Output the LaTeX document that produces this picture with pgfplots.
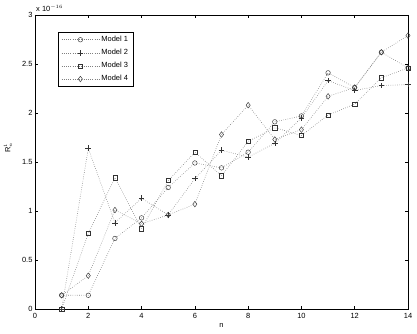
\documentclass[border=0pt]{standalone}
\usepackage{fontspec}
\setmainfont{Liberation Sans}
\usepackage{pgfplots}
\pgfplotsset{compat=1.18}
\usetikzlibrary{calc}
\newcommand{\smallf}{\fontsize{7.5}{9}\selectfont}
\pgfplotsset{
  mdl/.style={dash pattern=on 0.6pt off 1.6pt, color=black!50, line width=0.6pt,
    mark options={solid, draw=black!80, line width=0.45pt, fill=none}},
}
\begin{document}
\begin{tikzpicture}
\begin{axis}[
  scale only axis, width=373bp, height=294bp,
  xmin=0, xmax=14, ymin=0, ymax=3,
  xtick={0,2,...,14}, ytick={0,0.5,...,3},
  tick align=inside, major tick length=3bp,
  tick style={black, line width=0.5pt},
  axis line style={black, line width=0.7pt},
  font=\smallf, ticklabel style={font=\smallf},
  /pgf/number format/assume math mode=true,
  yticklabel style={xshift=1bp},
  xticklabel style={yshift=-1bp},
  clip mode=individual,
  xlabel={n}, xlabel style={at={(0.5,-0.055)}, anchor=center},
  ylabel={$\mathrm{R}^{1}_{n}$}, ylabel style={at={(-0.072,0.55)}, anchor=center, rotate=0},
  legend style={at={(0.062,0.942)}, anchor=north west, draw=black, line width=0.5pt,
    font=\smallf, inner xsep=3bp, inner ysep=2bp, row sep=2.2bp},
  legend cell align=left,
  legend image code/.code={\draw[mark repeat=2,mark phase=2] plot coordinates {(0cm,0cm)(0.66cm,0cm)(1.32cm,0cm)};},
]
\addplot[mdl, mark=o, mark size=2.3pt] coordinates {
  (1,0.14)(2,0.14)(3,0.72)(4,0.93)(5,1.24)(6,1.49)(7,1.44)
  (8,1.60)(9,1.91)(10,1.97)(11,2.41)(12,2.26)(13,2.62)(14,2.46)};
\addlegendentry{Model 1}
\addplot[mdl, mark=+, mark size=2.8pt] coordinates {
  (1,0.0)(2,1.64)(3,0.88)(4,1.13)(5,0.96)(6,1.33)(7,1.62)
  (8,1.55)(9,1.69)(10,1.95)(11,2.33)(12,2.23)(13,2.28)(14,2.29)};
\addlegendentry{Model 2}
\addplot[mdl, mark=square, mark size=2.1pt] coordinates {
  (1,0.0)(2,0.77)(3,1.34)(4,0.82)(5,1.31)(6,1.60)(7,1.36)
  (8,1.71)(9,1.85)(10,1.77)(11,1.98)(12,2.09)(13,2.36)(14,2.46)};
\addlegendentry{Model 3}
\addplot[mdl, mark=diamond, mark size=2.8pt] coordinates {
  (1,0.14)(2,0.34)(3,1.01)(4,0.87)(5,0.96)(6,1.07)(7,1.78)
  (8,2.08)(9,1.73)(10,1.83)(11,2.17)(12,2.26)(13,2.62)(14,2.79)};
\addlegendentry{Model 4}
\end{axis}
\node[anchor=south west, font=\smallf, inner sep=0pt] at ($(current axis.north west)+(1bp,3bp)$) {x 10$^{-16}$};
\pgfresetboundingbox
\useasboundingbox ($(current axis.south west)+(-35bp,-25bp)$) rectangle ($(current axis.north east)+(9bp,15bp)$);
\end{tikzpicture}
\end{document}
